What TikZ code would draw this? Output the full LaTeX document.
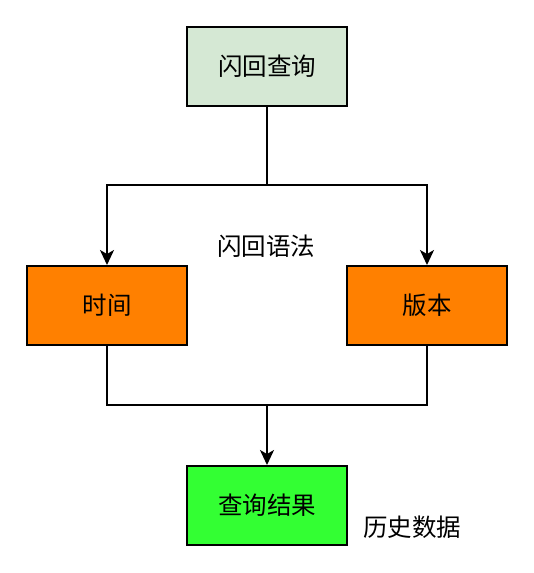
\documentclass[tikz,border=0pt]{standalone}
\usepackage{fontspec}
\setmainfont{Noto Sans CJK SC}
\usetikzlibrary{arrows.meta}
\definecolor{querygreen}{HTML}{D5E8D4}
\definecolor{keyorange}{HTML}{FF8000}
\definecolor{resultgreen}{HTML}{33FF33}
\begin{document}
\begin{tikzpicture}[x=1pt,y=-1pt,
    box/.style={draw, line width=2pt, minimum width=160pt, minimum height=79pt, font=\fontsize{24.5}{28}\selectfont},
    conn/.style={line width=2pt},
    tip/.style={conn, -{Stealth[length=15pt,width=14pt,inset=4pt]}}]
                        \useasboundingbox (0,0) rectangle (533,573);
                        \node[box, fill=querygreen] (query) at (267,66.5) {闪回查询};
                        \node[box, fill=keyorange] (time) at (107,305.5) {时间};
                        \node[box, fill=keyorange] (version) at (427,305.5) {版本};
                        \node[box, fill=resultgreen] (result) at (267,505.5) {查询结果};
                        \node[font=\fontsize{24.5}{28}\selectfont] (syntax) at (266,246) {闪回语法};
                        \node[font=\fontsize{24.5}{28}\selectfont] (history) at (412,527) {历史数据};
                        \coordinate (split) at (267,185);
                        \coordinate (join) at (267,405);
                        \draw[conn] (query.south) -- (split);
                        \draw[tip] (split) -| (time.north);
                        \draw[tip] (split) -| (version.north);
                        \draw[conn] (time.south) |- (join) -| (version.south);
                        \draw[tip] (join) -- (result.north);
                    \end{tikzpicture}
\end{document}
